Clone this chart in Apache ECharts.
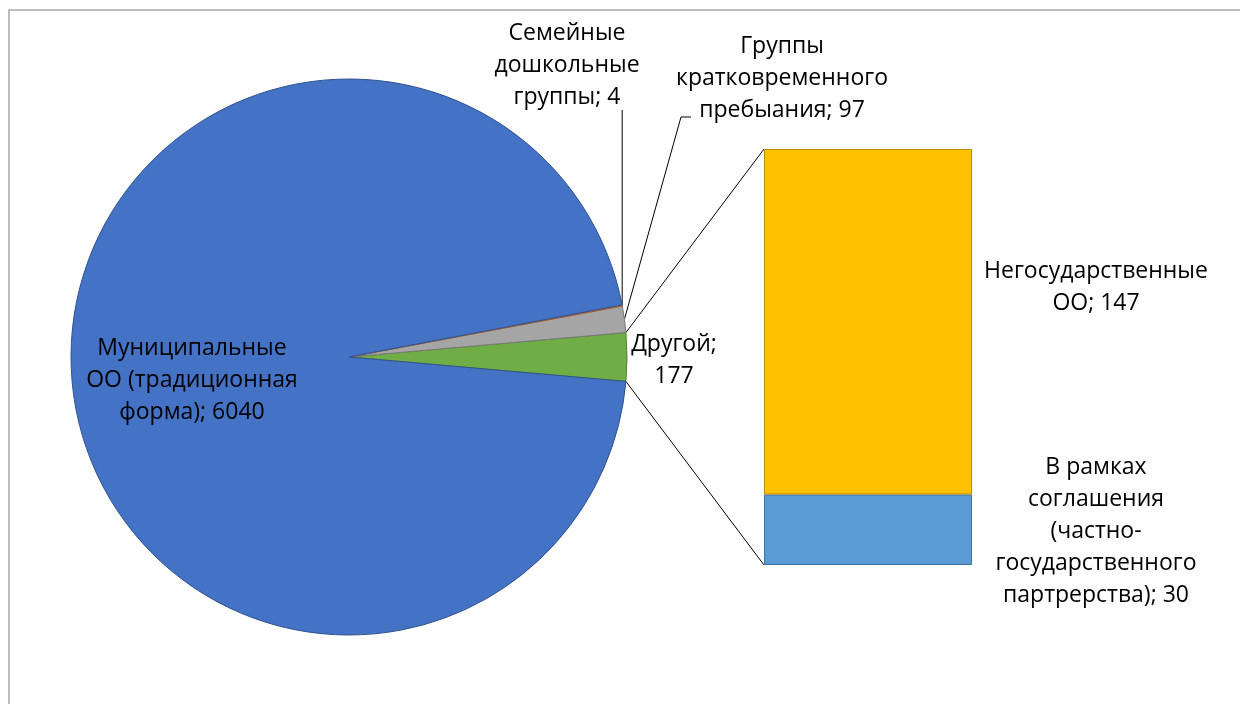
<!DOCTYPE html>
<html><head><meta charset="utf-8">
<script src="https://cdn.jsdelivr.net/npm/echarts@6/dist/echarts.min.js"></script>
<style>html,body{margin:0;padding:0;background:#fff;overflow:hidden}#c{width:1240px;height:704px}</style>
</head><body><div id="c"></div>
<script>
// ---- data ----
const pieNames = ['Другой', 'Группы кратковременного пребыания', 'Семейные дошкольные группы', 'Муниципальные ОО (традиционная форма)'];
const pieValues = [177, 97, 4, 6040];
const pieLabelText = ['Другой;\n177', 'Группы\nкратковременного\nпребыания; 97', 'Семейные\nдошкольные\nгруппы; 4', 'Муниципальные\nОО (традиционная\nформа); 6040'];
const barNames = ['В рамках соглашения (частно-государственного партрерства)', 'Негосударственные ОО'];
const barValues = [30, 147];
const barLabelText = ['В рамках\nсоглашения\n(частно-\nгосударственного\nпартрерства); 30', 'Негосударственные\nОО; 147'];

// ---- layout / style ----
const cx = 349, cy = 357, R = 278;
const barBox = {left: 764, top: 149, width: 208, height: 416};
const pieColors = ['#70AD47', '#A5A5A5', '#ED7D31', '#4472C4'];
const pieBorders = ['#507E32', '#787878', '#AE5A21', '#2F528F'];
const barColors = ['#5B9BD5', '#FFC000'];
const barBorders = ['#41719C', '#BC8C00'];
const FONT = 'Open Sans';
const FS = 23, LH = 32;

const total = pieValues.reduce((a, b) => a + b, 0);
const halfOther = pieValues[0] / total * 180;
const startAngle = -halfOther;

// label anchor positions relative to pie center
const labelPos = [
  {dx: 325, dy: 3},
  {dx: 433, dy: -279},
  {dx: 218, dy: -292},
  {dx: -157, dy: 23}
];
function angleMid(i) {
  let a = startAngle;
  for (let k = 0; k < i; k++) a += pieValues[k] / total * 360;
  return a + pieValues[i] / total * 180;
}
function edge(aDeg) {
  const r = aDeg * Math.PI / 180;
  return [cx + R * Math.cos(r), cy - R * Math.sin(r)];
}

const chart = echarts.init(document.getElementById('c'));
const pieData = pieNames.map((n, i) => ({
  name: n, value: pieValues[i],
  itemStyle: {color: pieColors[i], borderColor: pieBorders[i], borderWidth: 1},
  label: {formatter: pieLabelText[i]},
  labelLine: {show: i === 1 || i === 2}
}));

const topEdge = edge(halfOther), botEdge = edge(-halfOther);

chart.setOption({
  animation: false,
  textStyle: {fontFamily: FONT},
  grid: {left: barBox.left, top: barBox.top, width: barBox.width, height: barBox.height},
  xAxis: {type: 'category', data: ['Другой'], show: false},
  yAxis: {type: 'value', min: 0, max: barValues[0] + barValues[1], show: false},
  series: [
    {
      type: 'pie', center: [cx, cy], radius: R, startAngle: startAngle, clockwise: false,
      avoidLabelOverlap: false, minAngle: 0, data: pieData,
      label: {show: true, position: 'outside', color: '#000', fontFamily: FONT, fontSize: FS, lineHeight: LH, align: 'center'},
      labelLine: {lineStyle: {color: '#000', width: 1}},
      labelLayout: function (p) {
        const i = p.dataIndex;
        const pos = labelPos[i];
        const out = {x: cx + pos.dx, y: cy + pos.dy, align: 'center', verticalAlign: 'middle'};
        if (i === 2) {
          const e = edge(angleMid(2));
          out.labelLinePoints = [e, [e[0], cy - 247], [e[0], cy - 247]];
        } else if (i === 1) {
          const e = edge(angleMid(1));
          out.labelLinePoints = [e, [cx + 332, cy - 240], [cx + 342, cy - 240]];
        }
        return out;
      }
    },
    ...barNames.map((n, i) => ({
      type: 'bar', name: n, stack: 'other', barWidth: '100%',
      data: [{value: barValues[i], label: {formatter: barLabelText[i], offset: i === 1 ? [228, -34] : [228, 2]}}],
      itemStyle: {color: barColors[i], borderColor: barBorders[i], borderWidth: 1},
      label: {show: true, position: 'inside', color: '#000', fontFamily: FONT, fontSize: FS, lineHeight: LH, align: 'center'}
    }))
  ],
  graphic: [
    {type: 'polyline', shape: {points: [[9, 900], [9, 10], [1400, 10]]}, style: {fill: 'none', stroke: '#A6A6A6', lineWidth: 1.5}, silent: true},
    {type: 'line', shape: {x1: topEdge[0], y1: topEdge[1], x2: barBox.left, y2: barBox.top}, style: {stroke: '#000', lineWidth: 1}},
    {type: 'line', shape: {x1: botEdge[0], y1: botEdge[1], x2: barBox.left, y2: barBox.top + barBox.height}, style: {stroke: '#000', lineWidth: 1}}
  ]
});
</script></body></html>
